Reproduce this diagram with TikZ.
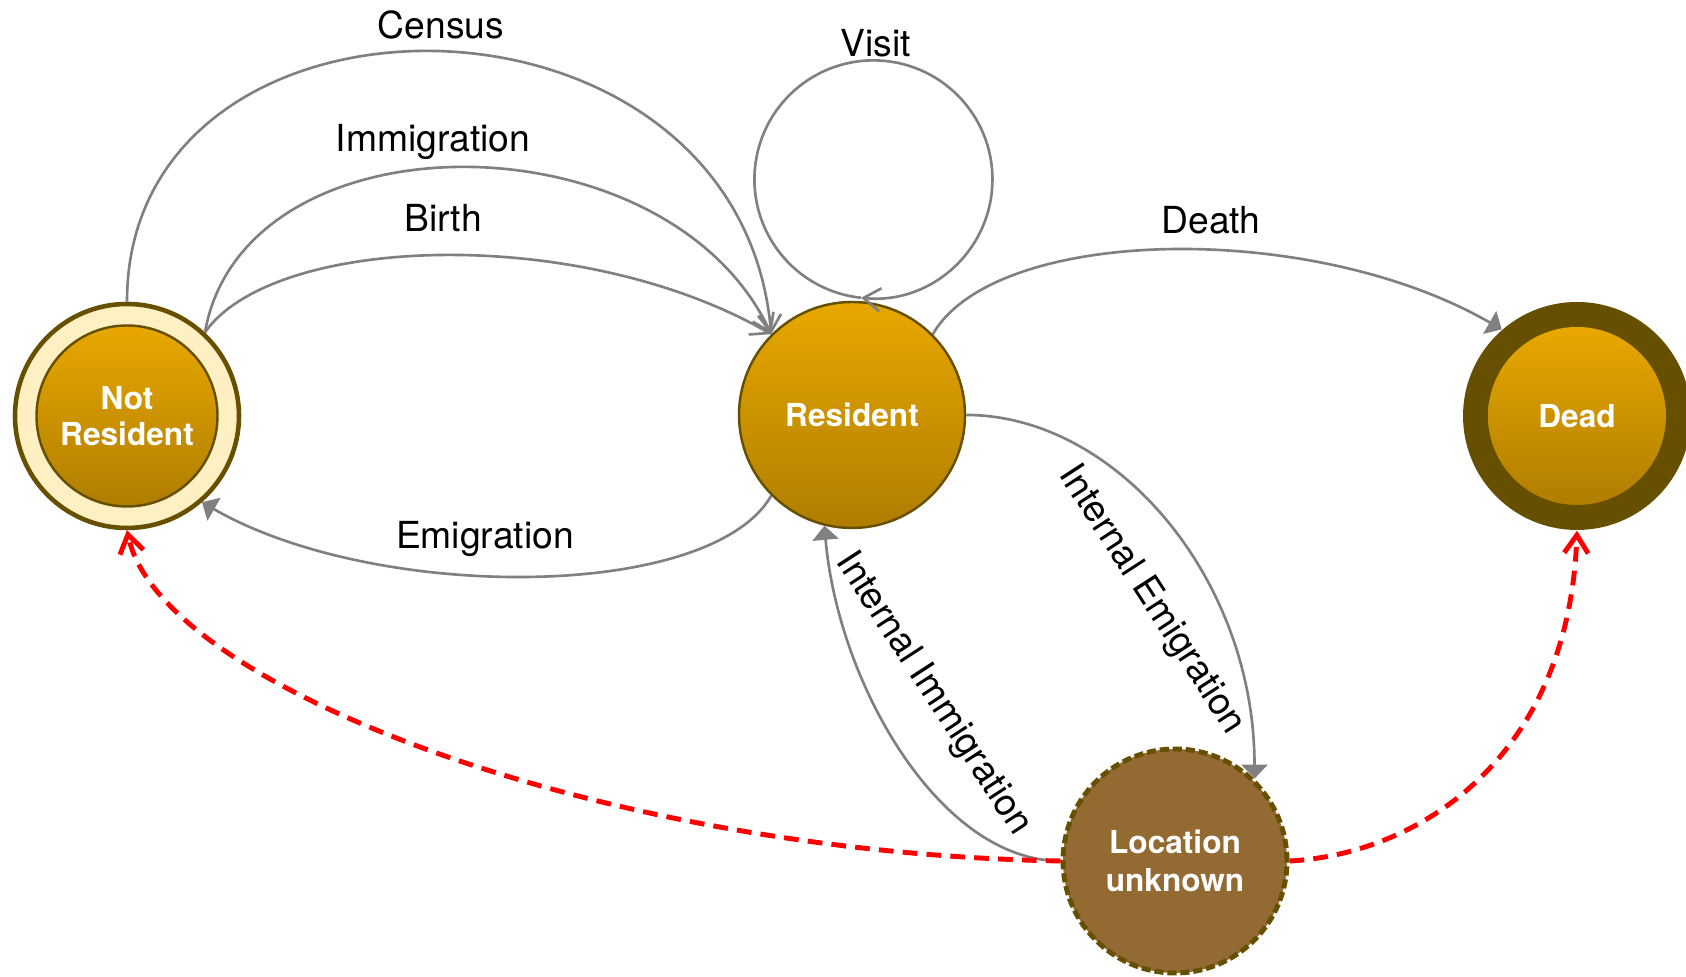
\documentclass[tikz,border=0pt]{standalone}
\usepackage{fontspec}
\setmainfont{TeX Gyre Heros}
\usetikzlibrary{arrows.meta}

\definecolor{ambertop}{RGB}{232,168,0}
\definecolor{amberbot}{RGB}{176,125,0}
\definecolor{nodeline}{RGB}{102,80,0}
\definecolor{cream}{RGB}{255,240,196}
\definecolor{mud}{RGB}{148,106,51}
\definecolor{flowgray}{RGB}{128,128,128}

\begin{document}
\begin{tikzpicture}
\tikzset{
state node/.style={circle,draw=nodeline,line width=0.7pt,top color=ambertop,bottom color=amberbot,
  text=white,font=\fontsize{9}{10.3}\selectfont\bfseries,align=center,inner sep=0pt,minimum size=2.26cm},
ring node/.style={circle,draw=nodeline,line width=1.3pt,fill=cream,inner sep=0pt,minimum size=2.24cm},
dead node/.style={circle,fill=nodeline,inner sep=0pt,minimum size=2.28cm},
lost node/.style={circle,fill=mud,draw=nodeline,line width=1.4pt,dash pattern=on 2.6pt off 1.1pt,
  text=white,font=\fontsize{9}{10.8}\selectfont\bfseries,align=center,inner sep=0pt,minimum size=2.24cm},
label node/.style={font=\fontsize{10.6}{12}\selectfont,inner sep=1pt},
flow/.style={draw=flowgray,line width=0.75pt},
open flow/.style={flow,-{Straight Barb[length=1.7mm,width=2.3mm]}},
solid flow/.style={flow,-{Triangle[length=1.4mm,width=2.6mm]}},
lost flow/.style={draw=red,line width=1.4pt,dash pattern=on 4.2pt off 2.6pt,
  -{Straight Barb[length=1.8mm,width=2.4mm]}}
}
\useasboundingbox (0,0) rectangle (16.86,9.77);

% states
\node (nr)[ring node] at (1.27,5.61) {};
\node (nrin)[state node,minimum size=1.81cm] at (nr) {Not\\Resident};
\node (res)[state node] at (8.52,5.62) {Resident};
\node (dead)[dead node] at (15.77,5.61) {};
\node (deadin)[state node,draw=none,minimum size=1.78cm] at (dead) {Dead};
\node (lu)[lost node] at (11.75,1.16) {Location\\unknown};

% entering and leaving
\draw[open flow] (nr.north) to[out=90,in=95,out distance=3.4cm,in distance=3.72cm] (res.135);
\draw[open flow] (nr.47) to[out=80,in=115,out distance=2.25cm,in distance=2.44cm] (res.135);
\draw[open flow] (nr.47) to[out=55,in=150,out distance=1.2cm,in distance=2.2cm] (res.135);
\draw[open flow] ([shift={(0.09,0.03)}]res.north) arc[start angle=-96,delta angle=-360,radius=1.19];
\draw[solid flow] (res.225) to[out=-120,in=-30,out distance=1.22cm,in distance=2cm] (nr.-49);
\draw[solid flow] (res.45) to[out=60,in=150,out distance=1.25cm,in distance=2.2cm] (dead.131);
\draw[solid flow] (res.east) to[out=0,in=90,out distance=1.5cm,in distance=2cm] (lu.46);
\draw[solid flow] (lu.west) to[out=180,in=-85,out distance=1.2cm,in distance=1.6cm] (res.-104);

% lost to follow up
\draw[lost flow] (lu.west) to[out=179,in=-78,out distance=4.62cm,in distance=1.59cm] (nr.south);
\draw[lost flow] (lu.east) to[out=3,in=-92,out distance=1.3cm,in distance=2.27cm] (dead.south);

% labels
\node (census)[label node] at (4.41,9.52) {Census};
\node (imm)[label node] at (4.33,8.35) {Immigration};
\node (birth)[label node] at (4.43,7.59) {Birth};
\node (visit)[label node] at (8.76,9.34) {Visit};
\node (death)[label node] at (12.11,7.57) {Death};
\node (emig)[label node] at (4.85,4.38) {Emigration};
\node (intemig)[label node,rotate=-57] at (11.51,3.77) {Internal Emigration};
\node (intimm)[label node,rotate=-57] at (9.33,2.83) {Internal Immigration};
\end{tikzpicture}
\end{document}
